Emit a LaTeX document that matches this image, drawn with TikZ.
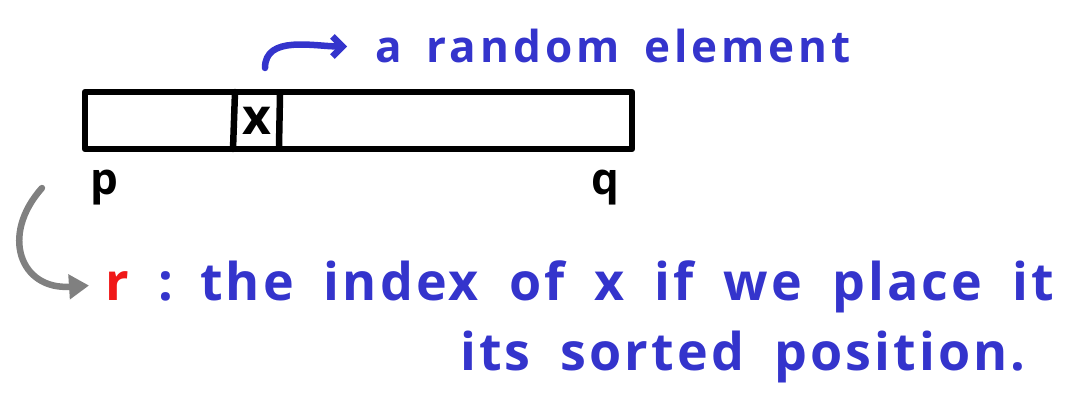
\documentclass[tikz,border=0pt]{standalone}
\usepackage{fontspec}
\setmainfont{Open Sans}
\usetikzlibrary{arrows.meta}
\definecolor{penblue}{RGB}{52,52,204}
\definecolor{pengray}{RGB}{128,128,128}
\definecolor{penred}{RGB}{240,24,24}
\newcommand{\wordgap}[1]{\spaceskip=#1\relax}
\tikzset{
  pen/.style={line width=6.5pt, line cap=round, line join=round},
  note/.style={anchor=base west, inner sep=0pt, text=penblue},
}

\begin{document}
\begin{tikzpicture}[x=1pt, y=-1pt, font=\fontsize{52}{60}\selectfont\bfseries]
  \useasboundingbox (0,0) rectangle (1081,398);
  % the array p..q
  \draw[pen] (85,92) rectangle (632,149);
  \draw[pen] (235,92) -- (233,149);
  \draw[pen] (280,95) -- (279,146);
  \node[inner sep=0pt, font=\fontsize{50}{60}\selectfont\bfseries] (x) at (257,121) {x};
  \node[anchor=base, inner sep=0pt, font=\fontsize{44}{48}\selectfont\bfseries] (p) at (104,195) {p};
  \node[anchor=base, inner sep=0pt, font=\fontsize{44}{48}\selectfont\bfseries] (q) at (605,195) {q};
  % the random element
  \coordinate (xtop) at (265,68);
  \node[note, font={\fontsize{44}{48}\selectfont\bfseries\addfontfeatures{LetterSpace=9}\wordgap{25pt}}] (rand) at (375,63) {a random element};
  \draw[pen, penblue, -{Straight Barb[length=10pt, width=20pt]}]
    (xtop) to[out=90, in=180] ([xshift=-28pt]rand.west);
  % what r is
  \node[anchor=base west, inner sep=0pt, text=penred] (r) at (105,300) {r};
  \node[note] (colon) at (158,300) {:};
  \node[note, font={\fontsize{52}{60}\selectfont\bfseries\addfontfeatures{LetterSpace=6}\wordgap{30pt}}] (def1) at (200,300) {the index of x if we place it};
  \node[note, font={\fontsize{52}{60}\selectfont\bfseries\addfontfeatures{LetterSpace=6}\wordgap{30pt}}] (def2) at (460,370) {its sorted position.};
  \coordinate (pside) at (42,188);
  \draw[pen, pengray, -{Triangle[length=20pt, width=24pt]}]
    (pside) .. controls (0,235) and (20,290) .. ([xshift=-16pt]r.west);
\end{tikzpicture}
\end{document}
